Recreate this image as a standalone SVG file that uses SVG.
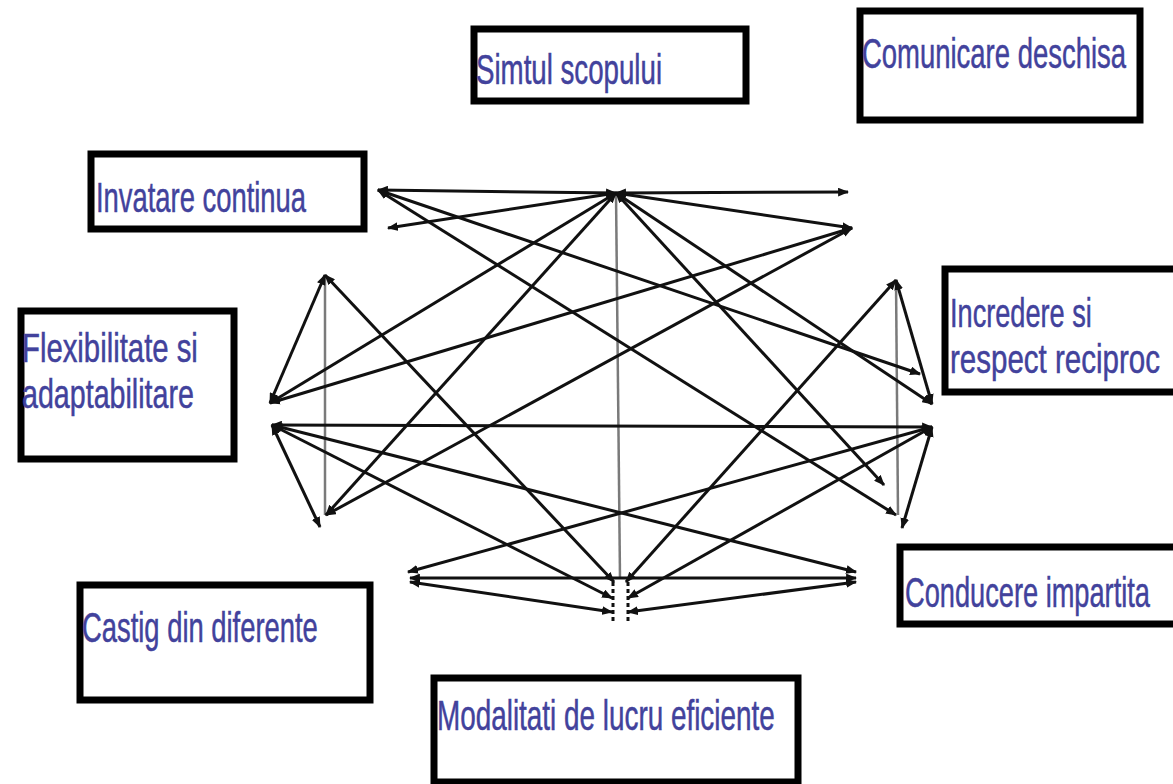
<svg xmlns="http://www.w3.org/2000/svg" width="1173" height="784" viewBox="0 0 1173 784">
<style>
.box{fill:#fff;stroke:#000;stroke-width:7}
.t{font-family:"Liberation Sans",Arial,sans-serif;font-size:42px;fill:#42429c;stroke:#42429c;stroke-width:0.5}
.t2{font-size:40px}
.c{stroke:#111;stroke-width:3;fill:none;marker-start:url(#ah);marker-end:url(#ah)}
.g{stroke:#7a7a7a;stroke-width:2.5;fill:none}
.d{stroke:#111;stroke-width:3;stroke-dasharray:4 3;fill:none}
</style>
<defs>
<marker id="ah" viewBox="0 0 10 8" refX="9" refY="4" markerWidth="11" markerHeight="9" markerUnits="userSpaceOnUse" orient="auto-start-reverse">
<path d="M0,0 L10,4 L0,8 z" fill="#111"/>
</marker>
</defs>
<rect width="1173" height="784" fill="#fff"/>
<g id="connectors">
<line class="g" x1="616" y1="193" x2="620" y2="578"/>
<line class="g" x1="325" y1="275" x2="325" y2="515"/>
<line class="g" x1="896" y1="280" x2="898" y2="515"/>
<line class="c" x1="616" y1="193" x2="378" y2="190"/>
<line class="c" x1="616" y1="193" x2="388" y2="228"/>
<line class="c" x1="616" y1="193" x2="848" y2="192"/>
<line class="c" x1="616" y1="193" x2="852" y2="228"/>
<line class="c" x1="616" y1="193" x2="270" y2="403"/>
<line class="c" x1="616" y1="193" x2="326" y2="515"/>
<line class="c" x1="616" y1="193" x2="884" y2="485"/>
<line class="c" x1="616" y1="193" x2="932" y2="404"/>
<line class="c" x1="378" y1="190" x2="920" y2="374"/>
<line class="c" x1="378" y1="190" x2="896" y2="515"/>
<line class="c" x1="852" y1="228" x2="270" y2="403"/>
<line class="c" x1="852" y1="228" x2="326" y2="515"/>
<line class="c" x1="325" y1="275" x2="270" y2="403"/>
<line class="c" x1="325" y1="275" x2="614" y2="582"/>
<line class="c" x1="896" y1="280" x2="932" y2="404"/>
<line class="c" x1="896" y1="280" x2="626" y2="582"/>
<line class="c" x1="272" y1="425" x2="932" y2="427"/>
<line class="c" x1="272" y1="425" x2="320" y2="527"/>
<line class="c" x1="272" y1="425" x2="856" y2="572"/>
<line class="c" x1="272" y1="425" x2="612" y2="598"/>
<line class="c" x1="932" y1="427" x2="902" y2="528"/>
<line class="c" x1="932" y1="427" x2="408" y2="572"/>
<line class="c" x1="932" y1="427" x2="628" y2="598"/>
<line class="c" x1="410" y1="578" x2="856" y2="578"/>
<line class="c" x1="410" y1="582" x2="612" y2="612"/>
<line class="c" x1="856" y1="582" x2="628" y2="612"/>
<line class="d" x1="613" y1="582" x2="613" y2="622"/>
<line class="d" x1="628" y1="582" x2="628" y2="622"/>
</g>
<g id="n-simtul"><rect class="box" x="474" y="29" width="272" height="72"/><text class="t" transform="translate(476,84) scale(0.659,1)">Simtul scopului</text></g>
<g id="n-comunicare"><rect class="box" x="860" y="11" width="280" height="109"/><text class="t" transform="translate(862,68) scale(0.654,1)">Comunicare deschisa</text></g>
<g id="n-invatare"><rect class="box" x="91" y="154" width="273" height="75"/><text class="t" transform="translate(96,212) scale(0.652,1)">Invatare continua</text></g>
<g id="n-flex"><rect class="box" x="21" y="311" width="213" height="148"/><text class="t t2" transform="translate(22,362) scale(0.733,1)">Flexibilitate si</text><text class="t t2" transform="translate(22,408) scale(0.716,1)">adaptabilitare</text></g>
<g id="n-incredere"><rect class="box" x="945" y="269" width="240" height="123"/><text class="t t2" transform="translate(950,327) scale(0.679,1)">Incredere si</text><text class="t t2" transform="translate(950,373) scale(0.738,1)">respect reciproc</text></g>
<g id="n-conducere"><rect class="box" x="900" y="547" width="285" height="77"/><text class="t" transform="translate(905,607) scale(0.648,1)">Conducere impartita</text></g>
<g id="n-castig"><rect class="box" x="80" y="585" width="290" height="115"/><text class="t" transform="translate(82,642) scale(0.652,1)">Castig din diferente</text></g>
<g id="n-modalitati"><rect class="box" x="434" y="678" width="364" height="104"/><text class="t" transform="translate(437,730) scale(0.664,1)">Modalitati de lucru eficiente</text></g>
</svg>
